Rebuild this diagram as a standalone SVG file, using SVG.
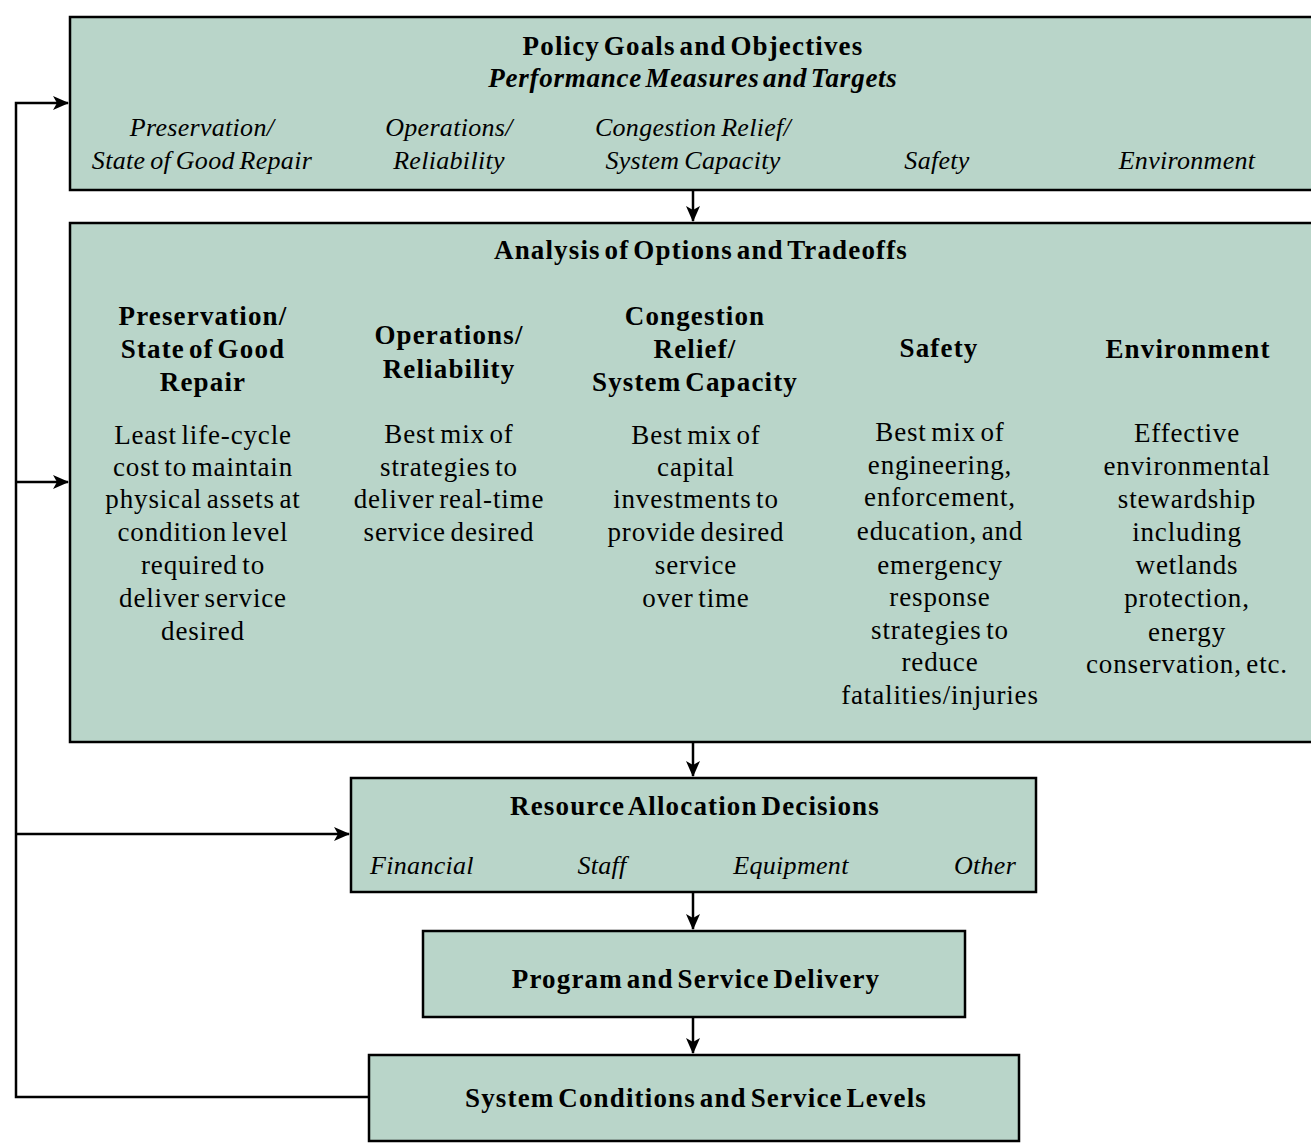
<svg xmlns="http://www.w3.org/2000/svg" width="1311" height="1145" viewBox="0 0 1311 1145">
<defs>
<marker id="ah" markerWidth="16" markerHeight="14" refX="15" refY="7" orient="auto" markerUnits="userSpaceOnUse">
<path d="M0,0 L16,7 L0,14 L4,7 Z" fill="#000"/>
</marker>
<style>
.box{fill:#b9d5c9;stroke:#000;stroke-width:2.5}
.t{font-family:"Liberation Serif","DejaVu Serif",serif;font-size:27px;fill:#000;text-anchor:middle;letter-spacing:0.85px;word-spacing:-3px}
.b{font-weight:bold;letter-spacing:1.15px;word-spacing:-4px}
.i{font-style:italic;font-size:26px;letter-spacing:0.3px;word-spacing:-2px}
.bi{font-style:italic;font-weight:bold;font-size:27px;letter-spacing:0.75px;word-spacing:-4px}
.c{fill:none;stroke:#000;stroke-width:2.5}
</style>
</defs>
<rect x="0" y="0" width="1311" height="1145" fill="#fff"/>
<g id="policy">
<rect class="box" x="70" y="17" width="1250" height="173"/>
<text class="t b" x="693" y="55">Policy Goals and Objectives</text>
<text class="t bi" x="693" y="87">Performance Measures and Targets</text>
<text class="t i" x="202" y="136">Preservation/</text>
<text class="t i" x="202" y="169">State of Good Repair</text>
<text class="t i" x="449" y="136">Operations/</text>
<text class="t i" x="449" y="169">Reliability</text>
<text class="t i" x="693" y="136">Congestion Relief/</text>
<text class="t i" x="693" y="169">System Capacity</text>
<text class="t i" x="937" y="169">Safety</text>
<text class="t i" x="1187" y="169">Environment</text>
</g>
<g id="analysis">
<rect class="box" x="70" y="223" width="1250" height="519"/>
<text class="t b" x="701" y="259">Analysis of Options and Tradeoffs</text>
<text class="t b" x="203" y="325">Preservation/</text>
<text class="t b" x="203" y="358">State of Good</text>
<text class="t b" x="203" y="391">Repair</text>
<text class="t b" x="449" y="344">Operations/</text>
<text class="t b" x="449" y="378">Reliability</text>
<text class="t b" x="695" y="325">Congestion</text>
<text class="t b" x="695" y="358">Relief/</text>
<text class="t b" x="695" y="391">System Capacity</text>
<text class="t b" x="939" y="357">Safety</text>
<text class="t b" x="1188" y="358">Environment</text>
<text class="t" x="203" y="444">Least life-cycle</text>
<text class="t" x="203" y="476">cost to maintain</text>
<text class="t" x="203" y="508">physical assets at</text>
<text class="t" x="203" y="541">condition level</text>
<text class="t" x="203" y="574">required to</text>
<text class="t" x="203" y="607">deliver service</text>
<text class="t" x="203" y="640">desired</text>
<text class="t" x="449" y="443">Best mix of</text>
<text class="t" x="449" y="476">strategies to</text>
<text class="t" x="449" y="508">deliver real-time</text>
<text class="t" x="449" y="541">service desired</text>
<text class="t" x="696" y="444">Best mix of</text>
<text class="t" x="696" y="476">capital</text>
<text class="t" x="696" y="508">investments to</text>
<text class="t" x="696" y="541">provide desired</text>
<text class="t" x="696" y="574">service</text>
<text class="t" x="696" y="607">over time</text>
<text class="t" x="940" y="441">Best mix of</text>
<text class="t" x="940" y="474">engineering,</text>
<text class="t" x="940" y="506">enforcement,</text>
<text class="t" x="940" y="540">education, and</text>
<text class="t" x="940" y="574">emergency</text>
<text class="t" x="940" y="606">response</text>
<text class="t" x="940" y="639">strategies to</text>
<text class="t" x="940" y="671">reduce</text>
<text class="t" x="940" y="704">fatalities/injuries</text>
<text class="t" x="1187" y="442">Effective</text>
<text class="t" x="1187" y="475">environmental</text>
<text class="t" x="1187" y="508">stewardship</text>
<text class="t" x="1187" y="541">including</text>
<text class="t" x="1187" y="574">wetlands</text>
<text class="t" x="1187" y="607">protection,</text>
<text class="t" x="1187" y="641">energy</text>
<text class="t" x="1187" y="673">conservation, etc.</text>
</g>
<g id="resource">
<rect class="box" x="351" y="778" width="685" height="114"/>
<text class="t b" x="695" y="815">Resource Allocation Decisions</text>
<text class="t i" x="422" y="874">Financial</text>
<text class="t i" x="602" y="874">Staff</text>
<text class="t i" x="791" y="874">Equipment</text>
<text class="t i" x="985" y="874">Other</text>
</g>
<g id="program">
<rect class="box" x="423" y="931" width="542" height="86"/>
<text class="t b" x="696" y="988">Program and Service Delivery</text>
</g>
<g id="system">
<rect class="box" x="369" y="1055" width="650" height="86"/>
<text class="t b" x="696" y="1107">System Conditions and Service Levels</text>
</g>
<g id="connectors">
<line class="c" x1="693" y1="190" x2="693" y2="221" marker-end="url(#ah)"/>
<line class="c" x1="693" y1="742" x2="693" y2="776" marker-end="url(#ah)"/>
<line class="c" x1="693" y1="892" x2="693" y2="929" marker-end="url(#ah)"/>
<line class="c" x1="693" y1="1017" x2="693" y2="1053" marker-end="url(#ah)"/>
<polyline class="c" points="369,1097 16,1097 16,103 68,103" marker-end="url(#ah)"/>
<line class="c" x1="16" y1="482" x2="68" y2="482" marker-end="url(#ah)"/>
<line class="c" x1="16" y1="834" x2="349" y2="834" marker-end="url(#ah)"/>
</g>
</svg>
